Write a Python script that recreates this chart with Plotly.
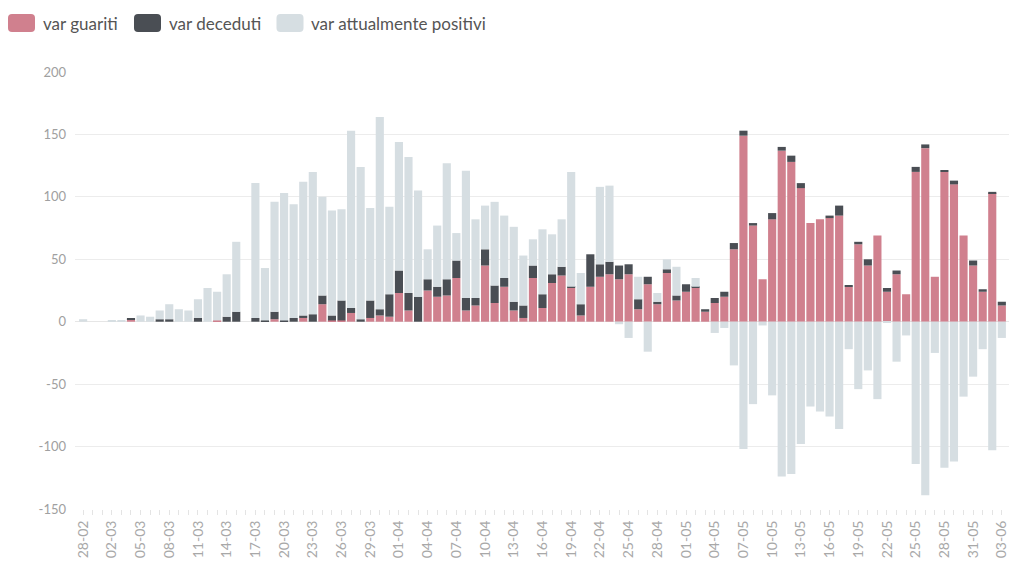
import pandas as pd
import plotly.graph_objects as go

# ------------------------------------------------------------
# Data: variazioni giornaliere (28-02 .. 03-06)
# ------------------------------------------------------------
DATES = [d.strftime("%d-%m") for d in pd.date_range("2020-02-28", "2020-06-03")]

VAR_GUARITI = [
    0, 0, 0, 0, 0, 2, 0, 0, 0, 0, 0, 0, 0, 0, 1, 0, 0, 0, 0, 0,
    2, 0, 0, 3, 0, 14, 1, 1, 7, 0, 3, 5, 4, 23, 9, 0, 25, 20, 21, 35,
    9, 13, 45, 15, 28, 9, 3, 35, 11, 31, 37, 27, 5, 28, 36, 38, 34, 38, 10, 30,
    14, 39, 17, 24, 27, 8, 15, 20, 58, 149, 77, 34, 82, 137, 128, 107, 79, 82, 83, 85,
    28, 62, 45, 69, 24, 38, 22, 120, 139, 36, 120, 110, 69, 45, 24, 103, 13,
]

VAR_DECEDUTI = [
    0, 0, 0, 0, 0, 1, 0, 0, 2, 2, 0, 0, 3, 0, 0, 4, 8, 0, 3, 1,
    6, 1, 3, 2, 6, 7, 4, 16, 4, 2, 14, 5, 18, 18, 14, 20, 9, 8, 13, 14,
    10, 6, 13, 14, 7, 7, 10, 10, 11, 7, 7, 1, 9, 26, 10, 10, 11, 8, 8, 6,
    2, 3, 4, 6, 1, 2, 4, 4, 5, 4, 2, 0, 5, 3, 5, 4, 0, 0, 2, 8,
    1, 2, 5, 0, 3, 3, 0, 4, 3, 0, 1, 3, 0, 4, 2, 1, 3,
]

VAR_POSITIVI = [
    2, 0, 0, 1, 1, 0, 5, 4, 7, 12, 10, 9, 15, 27, 23, 34, 56, 0, 108, 42,
    88, 102, 91, 107, 114, 79, 84, 73, 142, 122, 74, 154, 70, 103, 109, 85, 24, 49, 93, 22,
    102, 63, 35, 67, 50, 60, 40, 21, 52, 32, 38, 92, 25, 0, 62, 61, -2, -13, 18, -24,
    7, 8, 23, 0, 7, 0, -9, -5, -35, -102, -66, -3, -59, -124, -122, -98, -68, -72, -76, -86,
    -22, -54, -39, -62, -1, -32, -11, -114, -139, -25, -117, -112, -60, -44, -22, -103, -13,
]

Y_TICKS = [-150, -100, -50, 0, 50, 100, 150, 200]

COLORS = {
    "guariti": "#d0808e",
    "deceduti": "#4a4e54",
    "positivi": "#d6dee2",
}
FONT = "Lato, 'Open Sans', sans-serif"

# ------------------------------------------------------------
# Chart
# ------------------------------------------------------------
fig = go.Figure()

series = [
    ("var guariti", VAR_GUARITI, COLORS["guariti"]),
    ("var deceduti", VAR_DECEDUTI, COLORS["deceduti"]),
    ("var attualmente positivi", VAR_POSITIVI, COLORS["positivi"]),
]
for name, values, color in series:
    fig.add_trace(go.Bar(
        x=DATES, y=values, name=name,
        marker=dict(color=color, line_width=0),
        showlegend=False,
        hovertemplate=f"<b>{name}</b><br>%{{x}}: %{{y}}<extra></extra>",
    ))

# legenda disegnata a mano (quadrati arrotondati grandi)
W, H, R = 27, 18, 4
swatch_path = (
    f"M {-W/2},{-H/2 + R} Q {-W/2},{-H/2} {-W/2 + R},{-H/2} "
    f"L {W/2 - R},{-H/2} Q {W/2},{-H/2} {W/2},{-H/2 + R} "
    f"L {W/2},{H/2 - R} Q {W/2},{H/2} {W/2 - R},{H/2} "
    f"L {-W/2 + R},{H/2} Q {-W/2},{H/2} {-W/2},{H/2 - R} Z"
)
plot_l, plot_w, plot_t, plot_h = 75, 934, 72, 437.5
legend_y = 1 + (plot_t - 23) / plot_h
legend_items = [(21.5, 41), (147.5, 167), (290, 309)]
for (sw_px, txt_px), (name, _, color) in zip(legend_items, series):
    fig.add_shape(
        type="path", path=swatch_path,
        xref="paper", yref="paper",
        xsizemode="pixel", ysizemode="pixel",
        xanchor=(sw_px - plot_l) / plot_w, yanchor=legend_y,
        fillcolor=color, line_width=0,
    )
    fig.add_annotation(
        x=(txt_px - plot_l) / plot_w, y=legend_y,
        xref="paper", yref="paper",
        xanchor="left", yanchor="middle",
        text=name, showarrow=False,
        font=dict(family=FONT, size=17, color="#555555"),
    )

fig.update_layout(
    barmode="relative",
    bargap=0.15,
    width=1009, height=572,
    margin=dict(l=plot_l, r=0, t=plot_t, b=572 - plot_t - plot_h),
    plot_bgcolor="white",
    paper_bgcolor="white",
    font=dict(family=FONT, size=13, color="#a0a0a0"),
    xaxis=dict(
        type="category",
        range=[-0.85, 96.75],
        tickmode="array",
        tickvals=DATES,
        ticktext=[d if i % 3 == 0 else "" for i, d in enumerate(DATES)],
        tickangle=-90,
        ticks="outside", ticklen=5, tickcolor="#e4e4e4",
        tickfont=dict(size=14, color="#a8a8a8"),
        showgrid=False, showline=False, zeroline=False,
    ),
    yaxis=dict(
        range=[-150, 200],
        tickvals=Y_TICKS,
        ticktext=[str(v) for v in Y_TICKS],
        showgrid=True, gridcolor="#ececec", gridwidth=1,
        zeroline=True, zerolinecolor="#e6e6e6", zerolinewidth=1,
        showline=False, ticks="",
        ticklabelstandoff=8,
        tickfont=dict(size=13, color="#a0a0a0"),
    ),
)

# pagina senza margine del body, così il grafico parte da (0, 0)
fig.write_html(
    "out.html",
    config={"displayModeBar": False},
    post_script="document.body.style.margin='0';",
)
